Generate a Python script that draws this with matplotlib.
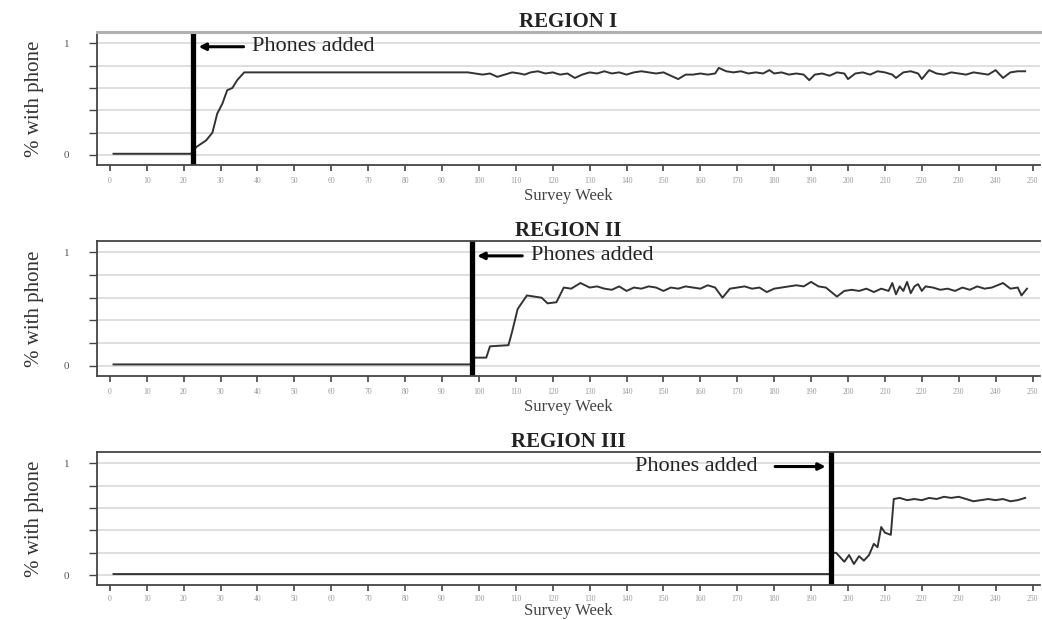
import matplotlib
matplotlib.use("Agg")
import matplotlib.pyplot as plt

plt.rcParams["font.family"] = ["Liberation Serif", "DejaVu Serif"]

# ---- data (survey week, share with phone) ----
r1_weeks = [1, 22, 23.4, 26.1, 27.8, 29.1, 30.5, 31.8, 33.2, 34.5, 36.4, 97,
            99, 101, 103, 105, 107, 109, 111, 112.4, 114, 116, 118, 120, 122, 124, 126,
            128, 130, 132, 134, 136, 138, 140, 142, 144, 146, 148, 150, 152, 154, 156,
            158, 160, 162, 164, 165, 167, 169, 171, 173, 175, 177, 178.7, 180, 182, 184,
            186, 188, 189.5, 191, 193, 195, 197, 199, 200, 202, 204, 206, 208, 210, 212,
            213, 215, 217, 219, 220, 222, 224, 226, 228, 230, 232, 234, 236, 238, 240,
            242, 244, 246, 248]
r1_vals = [0.01, 0.01, 0.07, 0.13, 0.20, 0.37, 0.46, 0.58, 0.60, 0.67, 0.74, 0.74,
           0.73, 0.72, 0.73, 0.70, 0.72, 0.74, 0.73, 0.72, 0.74, 0.75, 0.73, 0.74, 0.72, 0.73, 0.69,
           0.72, 0.74, 0.73, 0.75, 0.73, 0.74, 0.72, 0.74, 0.75, 0.74, 0.73, 0.74, 0.71, 0.68, 0.72,
           0.72, 0.73, 0.72, 0.73, 0.78, 0.75, 0.74, 0.75, 0.73, 0.74, 0.73, 0.76, 0.73, 0.74, 0.72,
           0.73, 0.72, 0.67, 0.72, 0.73, 0.71, 0.74, 0.73, 0.68, 0.73, 0.74, 0.72, 0.75, 0.74, 0.72,
           0.69, 0.74, 0.75, 0.73, 0.68, 0.76, 0.73, 0.72, 0.74, 0.73, 0.72, 0.74, 0.73, 0.72, 0.76,
           0.69, 0.74, 0.75, 0.75]

r2_weeks = [1, 98, 98.5, 102, 103, 108, 109, 110.5, 113, 117, 118.6, 121, 123, 125, 127.5,
            130, 132, 134, 136, 138, 140, 142, 144, 146, 148, 150, 152, 154, 156, 158, 160,
            162, 164, 166, 168, 170, 172, 174, 176, 178, 180, 182, 184, 186, 188, 190, 192,
            194, 197, 199, 201, 203, 205, 207, 209, 211, 212, 213, 214, 215, 216, 217, 218,
            219, 220, 221, 223, 225, 227, 229, 231, 233, 235, 237, 239, 242, 244, 246, 247, 248.5]
r2_vals = [0.01, 0.01, 0.07, 0.07, 0.17, 0.18, 0.30, 0.50, 0.62, 0.60, 0.55, 0.56, 0.69, 0.68, 0.73,
           0.69, 0.70, 0.68, 0.67, 0.70, 0.66, 0.69, 0.68, 0.70, 0.69, 0.66, 0.69, 0.68, 0.70, 0.69, 0.68,
           0.71, 0.69, 0.60, 0.68, 0.69, 0.70, 0.68, 0.69, 0.65, 0.68, 0.69, 0.70, 0.71, 0.70, 0.74, 0.70,
           0.69, 0.61, 0.66, 0.67, 0.66, 0.68, 0.65, 0.68, 0.66, 0.73, 0.63, 0.70, 0.66, 0.74, 0.64, 0.70,
           0.72, 0.66, 0.70, 0.69, 0.67, 0.68, 0.66, 0.69, 0.67, 0.70, 0.68, 0.69, 0.73, 0.68, 0.69, 0.62, 0.68]

r3_weeks = [1, 195.5, 196, 196.8, 199, 200.3, 201.6, 203, 204.3, 205.7, 207, 208, 209,
            210, 211.6, 212.4, 214, 216, 218, 220, 222, 224, 226, 228, 230, 232, 234, 236,
            238, 240, 242, 244, 246, 248]
r3_vals = [0.01, 0.01, 0.20, 0.20, 0.12, 0.18, 0.10, 0.17, 0.13, 0.18, 0.28, 0.25, 0.43,
           0.38, 0.36, 0.68, 0.69, 0.67, 0.68, 0.67, 0.69, 0.68, 0.70, 0.69, 0.70, 0.68, 0.66, 0.67,
           0.68, 0.67, 0.68, 0.66, 0.67, 0.69]

titles = ["REGION I", "REGION II", "REGION III"]
added_week = [22.5, 98, 195.5]
x_ticks = list(range(0, 260, 10))
y_ticks = [0, 0.2, 0.4, 0.6, 0.8, 1]
y_labels = ["0", "", "", "", "", "1"]

fig = plt.figure(figsize=(10.42, 6.2), dpi=100)
boxes = [[0.093, 0.734, 0.905, 0.214],
         [0.093, 0.394, 0.905, 0.217],
         [0.093, 0.056, 0.905, 0.215]]
series = [(r1_weeks, r1_vals), (r2_weeks, r2_vals), (r3_weeks, r3_vals)]

for i, box in enumerate(boxes):
    ax = fig.add_axes(box)
    w, v = series[i]
    ax.set_xlim(-3.5, 252)
    ax.set_ylim(-0.09, 1.1)
    ax.set_yticks(y_ticks)
    ax.set_yticklabels(y_labels, fontsize=8, color="#555555")
    ax.set_xticks(x_ticks)
    ax.set_xticklabels([str(t) for t in x_ticks], fontsize=5.5, color="#999999")
    ax.grid(axis="y", color="#d9d9d9", lw=1.2)
    ax.set_axisbelow(True)
    ax.tick_params(axis="x", length=4, width=1.2, color="#444444", pad=5 if i < 2 else 3)
    ax.tick_params(axis="y", length=6, width=1.0, color="#444444", pad=14)
    for s in ["left", "bottom", "top"]:
        ax.spines[s].set_color("#444444")
        ax.spines[s].set_linewidth(1.3)
    ax.spines["right"].set_visible(False)
    if i == 0:
        ax.spines["top"].set_color("#b0b0b0")
        ax.spines["top"].set_linewidth(2.2)

    ax.plot(w, v, color="#333333", lw=1.4)
    ax.axvline(added_week[i], color="black", lw=3.8)

    ax.set_title(titles[i], fontsize=15, fontweight="bold", pad=3, color="#222222")
    ax.set_ylabel("% with phone", fontsize=15, color="#333333", labelpad=14)
    ax.set_xlabel("Survey Week", fontsize=12, color="#444444", labelpad=2 if i < 2 else 0)

    arrow = dict(arrowstyle="-|>", color="black", lw=2.2, mutation_scale=10)
    if i < 2:
        ax.annotate("", xy=(added_week[i] + 0.8, 0.97), xytext=(added_week[i] + 14.5, 0.97),
                    arrowprops=arrow)
        ax.text(added_week[i] + 16, 0.97, "Phones added", fontsize=16,
                va="center", ha="left", color="#222222")
    else:
        ax.annotate("", xy=(added_week[i] - 0.8, 0.97), xytext=(added_week[i] - 16, 0.97),
                    arrowprops=arrow)
        ax.text(added_week[i] - 20, 0.97, "Phones added", fontsize=16,
                va="center", ha="right", color="#222222")

fig.savefig("out.png", dpi=100)
